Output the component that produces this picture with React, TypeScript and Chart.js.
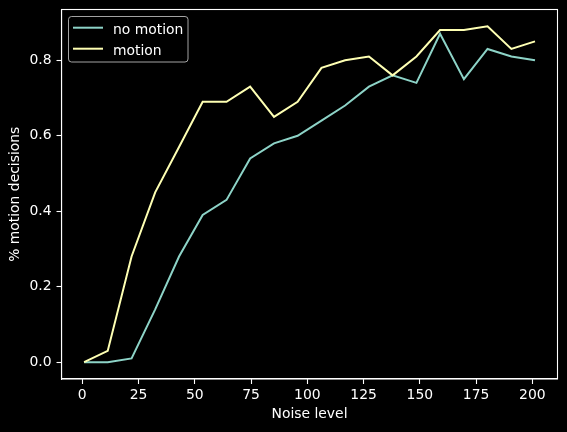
import React, { useEffect, useRef } from "react";
import { Chart, registerables } from "chart.js";

Chart.register(...registerables);

const noiseLevels = [0.8, 11.3, 21.9, 32.4, 43.0, 53.5, 64.1, 74.6, 85.2, 95.7, 106.3, 116.8, 127.4, 137.9, 148.5, 159.0, 169.6, 180.1, 190.7, 201.2];
const noMotion = [0, 0, 0.01, 0.14, 0.28, 0.39, 0.43, 0.54, 0.58, 0.6, 0.64, 0.68, 0.73, 0.76, 0.74, 0.87, 0.75, 0.83, 0.81, 0.8];
const motion = [0, 0.03, 0.28, 0.45, 0.57, 0.69, 0.69, 0.73, 0.65, 0.69, 0.78, 0.8, 0.81, 0.76, 0.81, 0.88, 0.88, 0.89, 0.83, 0.85];
const xTicks = [0, 25, 50, 75, 100, 125, 150, 175, 200];
const yTicks = [0, 0.2, 0.4, 0.6, 0.8];
const seriesLabels = ["no motion", "motion"];
const seriesColors = ["#8dd3c7", "#feffb3"];

const FONT = "'DejaVu Sans', sans-serif";
const FS = 13.9;

const bgPlugin = {
  id: "bg",
  beforeDraw(chart: any) {
    const ctx = chart.ctx;
    ctx.save();
    ctx.fillStyle = "#000";
    ctx.fillRect(0, 0, chart.width, chart.height);
    ctx.restore();
  },
};

const framePlugin = {
  id: "frame",
  afterDraw(chart: any) {
    const { ctx, chartArea } = chart;
    ctx.save();
    ctx.strokeStyle = "#ffffff";
    ctx.lineWidth = 1.1;
    ctx.strokeRect(chartArea.left, chartArea.top, chartArea.right - chartArea.left, chartArea.bottom - chartArea.top);
    // legend
    const bx = 68.5, by = 16.5, bw = 119.5, bh = 45.5, r = 3;
    ctx.beginPath();
    ctx.moveTo(bx + r, by);
    ctx.lineTo(bx + bw - r, by);
    ctx.quadraticCurveTo(bx + bw, by, bx + bw, by + r);
    ctx.lineTo(bx + bw, by + bh - r);
    ctx.quadraticCurveTo(bx + bw, by + bh, bx + bw - r, by + bh);
    ctx.lineTo(bx + r, by + bh);
    ctx.quadraticCurveTo(bx, by + bh, bx, by + bh - r);
    ctx.lineTo(bx, by + r);
    ctx.quadraticCurveTo(bx, by, bx + r, by);
    ctx.closePath();
    ctx.fillStyle = "rgba(0,0,0,0.8)";
    ctx.fill();
    ctx.strokeStyle = "rgba(204,204,204,0.8)";
    ctx.lineWidth = 1;
    ctx.stroke();
    const ds = chart.data.datasets;
    ctx.font = `${FS}px ${FONT}`;
    ctx.textBaseline = "alphabetic";
    ctx.textAlign = "left";
    for (let i = 0; i < ds.length; i++) {
      const ly = 27.7 + i * 21;
      ctx.strokeStyle = ds[i].borderColor;
      ctx.lineWidth = 2;
      ctx.beginPath();
      ctx.moveTo(73, ly);
      ctx.lineTo(103, ly);
      ctx.stroke();
      ctx.fillStyle = "#ffffff";
      ctx.fillText(ds[i].label, 113, ly + 6.3);
    }
    ctx.restore();
  },
};

export default function App() {
  const ref = useRef<HTMLCanvasElement>(null);
  useEffect(() => {
    document.body.style.margin = "0";
    document.body.style.background = "#000";
    const series = [noMotion, motion];
    const chart = new Chart(ref.current!, {
      type: "line",
      data: {
        datasets: series.map((s, i) => ({
          label: seriesLabels[i],
          data: s.map((v, j) => ({ x: noiseLevels[j], y: v })),
          borderColor: seriesColors[i],
          backgroundColor: seriesColors[i],
          borderWidth: 2,
          pointRadius: 0,
          tension: 0,
          fill: false,
          order: i === 0 ? 1 : 0,
        })),
      },
      options: {
        animation: false,
        responsive: false,
        devicePixelRatio: 1,
        layout: { padding: { top: 9.5, right: 9.5, left: 0, bottom: 0 } },
        plugins: { legend: { display: false }, tooltip: { enabled: false } },
        scales: {
          x: {
            type: "linear",
            min: -9.24,
            max: 211.2,
            afterBuildTicks: (scale: any) => {
              scale.ticks = xTicks.map((v) => ({ value: v }));
            },
            afterFit: (scale: any) => {
              scale.height = 53;
              scale.paddingLeft = 0;
              scale.paddingRight = 0;
            },
            grid: { drawOnChartArea: false, drawTicks: true, tickLength: 5, tickColor: "#fff", tickWidth: 1.1, color: "#fff" },
            border: { display: true, color: "#fff", width: 1.1 },
            ticks: { color: "#fff", padding: 3, font: { family: FONT, size: FS }, maxRotation: 0, autoSkip: false },
            title: { display: true, text: "Noise level", color: "#fff", font: { family: FONT, size: FS }, padding: { top: 0, bottom: 9 } },
          },
          y: {
            type: "linear",
            min: -0.0445,
            max: 0.9345,
            afterBuildTicks: (scale: any) => {
              scale.ticks = yTicks.map((v) => ({ value: v }));
            },
            afterFit: (scale: any) => {
              scale.width = 61.5;
              scale.paddingTop = 0;
              scale.paddingBottom = 0;
            },
            grid: { drawOnChartArea: false, drawTicks: true, tickLength: 5, tickColor: "#fff", tickWidth: 1.1, color: "#fff" },
            border: { display: true, color: "#fff", width: 1.1 },
            ticks: {
              color: "#fff",
              padding: 5,
              font: { family: FONT, size: FS },
              autoSkip: false,
              callback: (v: any) => Number(v).toFixed(1),
            },
            title: { display: true, text: "% motion decisions", color: "#fff", font: { family: FONT, size: FS }, padding: { top: 7.5, bottom: 0 } },
          },
        },
      },
      plugins: [bgPlugin, framePlugin],
    } as any);
    return () => chart.destroy();
  }, []);
  return (
    <div style={{ position: "fixed", left: 0, top: 0, width: 567, height: 432, background: "#000" }}>
      <canvas ref={ref} width={567} height={432} style={{ width: 567, height: 432, display: "block" }} />
    </div>
  );
}
